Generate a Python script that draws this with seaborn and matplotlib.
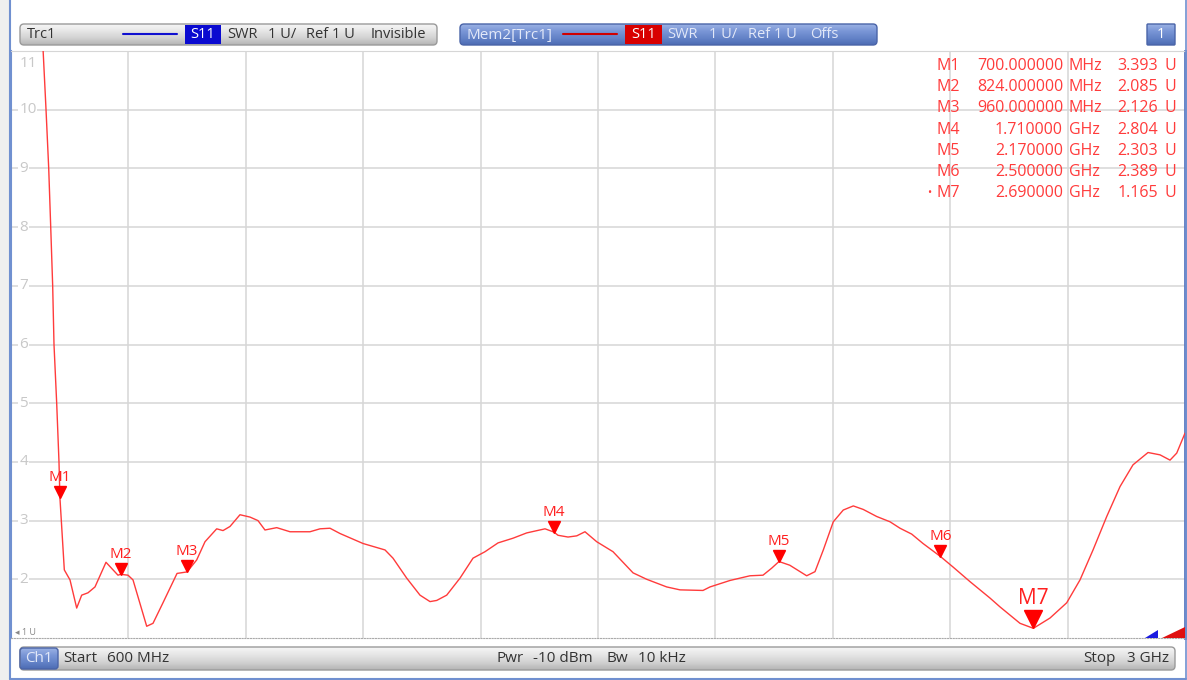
import numpy as np
import matplotlib.pyplot as plt
import matplotlib.transforms as mtransforms
from matplotlib.patches import FancyBboxPatch, Rectangle, Polygon
from matplotlib.colors import LinearSegmentedColormap
import seaborn as sns

# trace S11 SWR, frecuencia en MHz
freq = [665.4, 671.6, 677.1, 681.2, 685.2, 687.9, 693.4, 698.1, 700, 709.0, 720.6, 734.3, 744.5,
        757.4, 771.7, 794.2, 818.7, 824, 839.2, 849.4, 877.4, 890.3, 910.7, 939.4, 960, 979.6,
        996.6, 1020.5, 1033.4, 1047.7, 1068.1, 1088.6, 1104.9, 1119.2, 1143.2, 1170.4, 1211.2,
        1231.7, 1252.1, 1272.6, 1319.6, 1364.6, 1380.9, 1408.9, 1436.1, 1456.6, 1470.3, 1490.7,
        1517.9, 1544.5, 1569.0, 1595.6, 1626.2, 1654.2, 1691.7, 1710, 1718.2, 1738.7, 1756.5,
        1773.4, 1797.4, 1830.7, 1871.6, 1899.6, 1940.4, 1967.6, 2014.6, 2029.0, 2069.8, 2110.7,
        2137.3, 2155.1, 2170, 2192.0, 2226.6, 2243.6, 2260.6, 2281.0, 2301.4, 2321.9, 2342.3,
        2369.7, 2396.9, 2417.4, 2441.3, 2464.4, 2500, 2525.7, 2560.5, 2601.4, 2621.8, 2662.7,
        2690, 2724.0, 2758.2, 2785.4, 2812.0, 2840.0, 2867.2, 2893.7, 2924.4, 2949.0, 2969.4,
        2983.1, 3000]
swr = [11.05, 10.0, 9.0, 8.0, 7.0, 6.0, 5.0, 4.0, 3.393, 2.16, 1.99, 1.51, 1.73,
       1.77, 1.87, 2.29, 2.07, 2.085, 2.07, 1.99, 1.20, 1.25, 1.60, 2.10, 2.126, 2.33,
       2.64, 2.86, 2.83, 2.90, 3.10, 3.06, 3.00, 2.84, 2.88, 2.81, 2.81,
       2.86, 2.87, 2.78, 2.61, 2.50, 2.36, 2.02, 1.73, 1.62, 1.64, 1.73,
       2.02, 2.36, 2.47, 2.62, 2.70, 2.79, 2.86, 2.804, 2.75, 2.72, 2.74,
       2.81, 2.64, 2.47, 2.11, 2.00, 1.87, 1.82, 1.81, 1.87, 1.98, 2.06,
       2.07, 2.19, 2.303, 2.24, 2.06, 2.13, 2.50, 2.98, 3.18, 3.25, 3.19,
       3.07, 2.98, 2.87, 2.77, 2.61, 2.389, 2.21, 1.96, 1.68, 1.53, 1.25,
       1.165, 1.34, 1.60, 1.99, 2.50, 3.07, 3.58, 3.95, 4.16, 4.12, 4.03,
       4.15, 4.49]

# marcadores
mk_names = ["M1", "M2", "M3", "M4", "M5", "M6", "M7"]
mk_freq = [700, 824, 960, 1710, 2170, 2500, 2690]
mk_val = [3.393, 2.085, 2.126, 2.804, 2.303, 2.389, 1.165]

y_ticks = [2, 3, 4, 5, 6, 7, 8, 9, 10, 11]
x_grid = [840, 1080, 1320, 1560, 1800, 2040, 2280, 2520, 2760]

RED = "#ff3b3b"
DARK = "#333333"
sns.set_style("white")
plt.rcParams["font.family"] = ["Open Sans", "DejaVu Sans"]

W, H = 1187, 680
fig = plt.figure(figsize=(W / 100, H / 100), dpi=100)
fig.patch.set_facecolor("white")
ax = fig.add_axes([11 / W, 42 / H, 1174 / W, 587 / H])

sns.lineplot(x=freq, y=swr, ax=ax, color=RED, lw=1.0, sort=False, zorder=3)
ax.set_xlim(600, 3000)
ax.set_ylim(1, 11)
ax.set_xticks(x_grid)
ax.set_yticks(y_ticks)
ax.set_xticklabels([])
ax.set_yticklabels([])
ax.tick_params(axis="x", length=0)
ax.tick_params(axis="y", direction="in", length=7, color="#c8c8c8", width=1)
ax.grid(True, color="#d6d6d6", lw=1.1)
ax.set_xlabel("")
ax.set_ylabel("")
ax.spines["top"].set_color("#d6d6d6")
ax.spines["bottom"].set_color("#aaaaaa")
ax.spines["bottom"].set_linestyle((0, (1, 1.5)))
ax.spines["left"].set_color("#7090d0")
ax.spines["left"].set_linewidth(1.5)
ax.spines["right"].set_color("#5a78c0")
ax.spines["right"].set_linewidth(2)

# etiquetas del eje y dentro del grafico
blend = mtransforms.blended_transform_factory(ax.transAxes, ax.transData)
for v in y_ticks:
    ax.text(0.007, v - (0.09 if v == 11 else 0), str(v), transform=blend, fontsize=11,
            color="#c8c8c8", ha="left", va="top" if v == 11 else "center",
            bbox=dict(fc="white", ec="none", pad=0.5), zorder=4)
ax.text(0.003, 1.02, "\u25c2 1 U", transform=blend, fontsize=6.5, color="#888888",
        ha="left", va="bottom", zorder=4)

# marcadores
for name, f, v in zip(mk_names, mk_freq, mk_val):
    big = name == "M7"
    ms = 13 if big else 8
    tr = mtransforms.offset_copy(ax.transData, fig=fig, x=0, y=ms / 2, units="points")
    ax.plot([f], [v], marker="v", ms=ms, color="red", mec="red", transform=tr, zorder=5)
    tr2 = mtransforms.offset_copy(ax.transData, fig=fig, x=0, y=ms + 1, units="points")
    ax.text(f, v, name, transform=tr2, color="#ff2020", fontsize=15 if big else 11,
            ha="center", va="bottom", zorder=5)

# capa de pixeles para la interfaz
ov = fig.add_axes([0, 0, 1, 1], zorder=10)
ov.patch.set_alpha(0)
ov.set_axis_off()


def gbox(x0, y0, w, h, colors, ec, r=4):
    p = FancyBboxPatch((x0, y0), w, h, boxstyle=f"round,pad=0,rounding_size={r}",
                       fc="none", ec=ec, lw=1, zorder=3)
    ov.add_patch(p)
    cmap = LinearSegmentedColormap.from_list("g", colors)
    g = np.linspace(0, 1, 64).reshape(-1, 1)
    im = ov.imshow(g, extent=(x0, x0 + w, y0 + h, y0), cmap=cmap, aspect="auto",
                   interpolation="bilinear", zorder=2)
    im.set_clip_path(p)


def words(items, y, size, color):
    for x, s in items:
        ov.text(x, y, s, fontsize=size, color=color, va="center", zorder=5)


GRAY = ["#f6f6f6", "#e6e6e6", "#d2d2d2", "#b4b4b4"]
BLUE = ["#9bb2e4", "#7a96d6", "#6483c8", "#4d6cb4"]
LIGHT = "#e2e8f8"

# barra superior
gbox(20, 24, 417, 21, GRAY, "#9a9a9a")
words([(27, "Trc1")], 35, 10.5, DARK)
ov.plot([123, 177], [34, 34], color="#1010d0", lw=1.5, zorder=4)
ov.add_patch(Rectangle((185, 25), 36, 19, fc="#0a0ad0", ec="none", zorder=4))
ov.text(203, 35, "S11", fontsize=10.5, color="white", ha="center", va="center", zorder=5)
words([(227, "SWR"), (268, "1 U/"), (306, "Ref 1 U"), (371, "Invisible")], 35, 10.5, DARK)

gbox(460, 24, 417, 21, BLUE, "#4a64a8")
words([(466, "Mem2[Trc1]")], 35, 11, LIGHT)
ov.plot([563, 617], [34, 34], color="#d00000", lw=1.5, zorder=4)
ov.add_patch(Rectangle((625, 25), 37, 19, fc="#d80000", ec="none", zorder=4))
ov.text(643.5, 35, "S11", fontsize=10.5, color="white", ha="center", va="center", zorder=5)
words([(667, "SWR"), (709, "1 U/"), (748, "Ref 1 U"), (810, "Offs")], 35, 10.5, LIGHT)

gbox(1147, 24, 28, 21, BLUE, "#4a64a8", r=1)
ov.text(1161, 35, "1", fontsize=10.5, color="white", ha="center", va="center", zorder=5)

# barra inferior
gbox(20, 647, 1155, 23, GRAY, "#9a9a9a")
gbox(20, 648, 38, 21, BLUE, "#4a64a8", r=3)
ov.text(39, 659, "Ch1", fontsize=11, color=LIGHT, ha="center", va="center", zorder=5)
words([(63, "Start"), (107, "600 MHz"), (496, "Pwr"), (533, "-10 dBm"),
       (607, "Bw"), (638, "10 kHz"), (1083, "Stop"), (1127, "3 GHz")], 659, 11, DARK)

# indicadores de referencia
ov.add_patch(Polygon([[1145, 638], [1158, 638], [1158, 630]], fc="#1a1ae0", ec="none"))
ov.add_patch(Polygon([[1162, 638], [1185, 638], [1185, 627]], fc="#e01010", ec="none"))

# tabla de marcadores
for i, (name, f, v) in enumerate(zip(mk_names, mk_freq, mk_val)):
    y = 66 + i * 21.2
    if f < 1000:
        fs, unit = f"{f:.6f}", "MHz"
    else:
        fs, unit = f"{f / 1000:.6f}", "GHz"
    if name == "M7":
        ov.text(929, y, "\u2022", fontsize=8, color=RED, ha="center", va="center")
    ov.text(960, y, name, fontsize=11.5, color=RED, ha="right", va="center")
    ov.text(1063, y, fs, fontsize=11.5, color=RED, ha="right", va="center")
    ov.text(1069, y, unit, fontsize=11.5, color=RED, ha="left", va="center")
    ov.text(1158, y, f"{v:.3f}", fontsize=11.5, color=RED, ha="right", va="center")
    ov.text(1165, y, "U", fontsize=11.5, color=RED, ha="left", va="center")

# marco exterior
ov.add_patch(Rectangle((0, 0), 10, 680, fc="#efefef", ec="none", zorder=0))
ov.plot([10, 10], [0, 679], color="#7090d0", lw=1.5)
ov.plot([10, 1186], [678.5, 678.5], color="#7090d0", lw=1.5)
ov.plot([1186, 1186], [0, 679], color="#7090d0", lw=1.2)

ov.set_xlim(0, W)
ov.set_ylim(H, 0)

fig.savefig("out.png", dpi=100)
